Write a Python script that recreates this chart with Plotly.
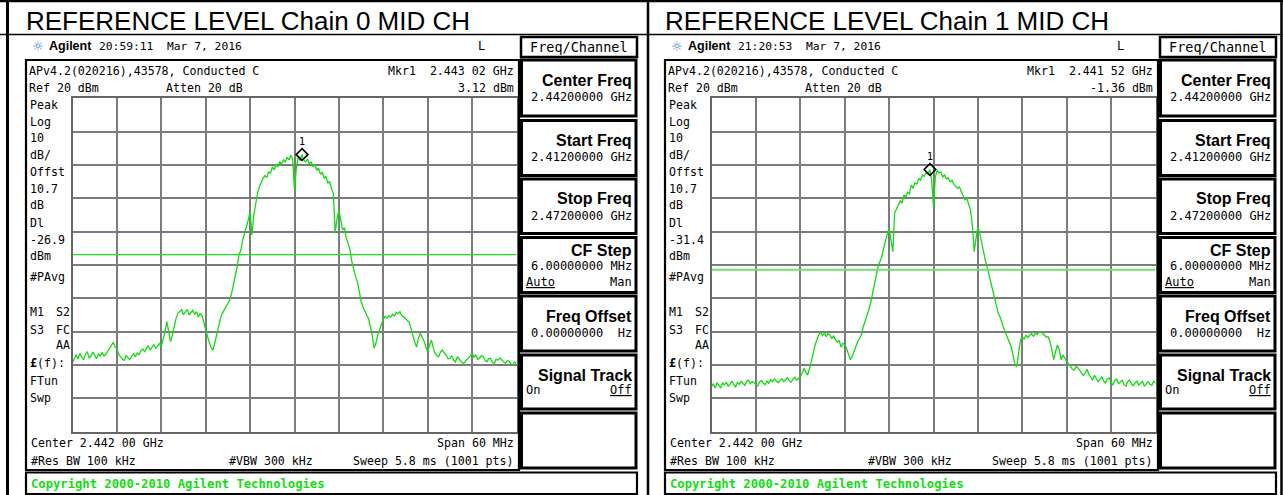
import numpy as np
import plotly.graph_objects as go

W, H = 1283, 495
MONO = "DejaVu Sans Mono"
SANS = "Liberation Sans, Arial"

# ---------------- data ----------------
F_START_GHZ = 2.412
F_STOP_GHZ = 2.472
REF_LEVEL_DBM = 20
DB_PER_DIV = 10

# trace level (dBm), one value per 0.25 MHz from start to stop frequency
chain0_dbm = [
    -59.3, -57.8, -56.9, -58.2, -56.5, -57.6, -58.4, -56.8, -56.0, -57.9,
    -57.3, -56.1, -57.0, -58.1, -56.6, -57.4, -56.2, -57.3, -56.8, -55.9,
    -55.3, -54.2, -53.2, -54.5, -55.2, -56.8, -57.6, -58.3, -58.6, -57.2,
    -57.8, -58.4, -57.3, -56.6, -57.5, -56.4, -56.9, -55.6, -55.2, -56.1,
    -55.0, -54.3, -55.4, -54.6, -53.9, -55.0, -54.2, -53.6, -54.4, -52.5,
    -50.0, -47.0, -49.5, -53.0, -51.0, -48.0, -46.0, -44.5, -44.0, -43.4,
    -44.9, -44.1, -43.3, -45.0, -44.2, -43.6, -44.8, -44.0, -45.6, -44.6,
    -45.2, -47.5, -49.5, -51.5, -53.3, -54.8, -55.5, -53.0, -50.0, -48.0,
    -46.0, -44.5, -43.6, -42.5, -41.5, -40.5, -38.5, -36.0, -33.0, -30.5,
    -27.0, -25.5, -22.5, -20.5, -19.0, -16.5, -14.0, -21.0, -15.0, -11.0,
    -8.5, -6.5, -5.0, -4.0, -3.2, -3.8, -2.0, -2.6, -0.6, -1.5,
    0.2, -0.6, 1.0, 0.2, 1.6, 0.8, 2.3, 1.5, 2.9, 1.8,
    -7.5, -1.0, 2.4, 1.3, 3.12, 1.5, 0.9, 1.8, 0.3, 1.0,
    -0.6, 0.2, -1.6, -0.9, -2.8, -2.2, -3.9, -3.4, -5.5, -4.9,
    -7.2, -8.5, -20.4, -16.0, -13.5, -16.5, -19.5, -18.8, -22.0, -23.5,
    -25.5, -29.0, -31.5, -33.5, -35.0, -38.5, -40.8, -42.5, -44.0, -45.0,
    -46.0, -48.5, -51.0, -54.9, -53.5, -51.0, -49.5, -47.5, -46.2, -45.4,
    -46.0, -45.2, -45.6, -44.8, -45.3, -44.2, -44.6, -44.0, -45.2, -45.5,
    -46.0, -46.4, -47.2, -49.0, -51.5, -53.2, -54.6, -52.0, -50.5, -51.6,
    -52.8, -54.5, -56.0, -54.0, -52.5, -54.8, -56.5, -57.2, -57.5, -56.0,
    -55.5, -56.4, -57.0, -58.1, -58.0, -57.2, -58.5, -59.1, -57.5, -58.2,
    -58.8, -59.5, -59.3, -58.4, -58.0, -57.1, -56.5, -57.6, -57.0, -58.3,
    -58.0, -57.2, -57.5, -58.6, -59.0, -58.1, -58.0, -59.2, -59.5, -58.3,
    -58.5, -57.9, -58.4, -59.0, -59.5, -58.7, -58.8, -59.6, -60.0, -59.1,
    -59.5,
]
chain1_dbm = [
    -66.5, -65.6, -66.9, -65.3, -66.2, -66.8, -65.4, -66.0, -65.1, -66.4,
    -65.7, -64.8, -65.9, -66.6, -65.2, -65.8, -64.9, -65.5, -66.1, -65.0,
    -64.5, -65.6, -64.9, -65.3, -65.8, -66.3, -65.1, -64.7, -65.4, -65.9,
    -64.8, -65.5, -64.4, -65.0, -64.2, -64.9, -65.3, -64.6, -64.1, -65.0,
    -64.4, -63.8, -64.7, -65.2, -64.3, -63.7, -64.5, -64.0, -63.6, -62.5,
    -61.0, -62.2, -63.0, -61.0, -59.0, -56.5, -54.0, -52.0, -50.8, -50.3,
    -51.2, -50.4, -51.5, -50.6, -51.0, -52.0, -51.3, -52.5, -53.2, -52.6,
    -54.6, -53.5, -53.8, -55.0, -56.8, -58.4, -57.5, -56.2, -54.5, -53.0,
    -52.0, -51.0, -48.6, -47.0, -45.6, -43.5, -41.4, -38.5, -35.5, -33.0,
    -30.6, -29.0, -27.6, -25.0, -22.5, -20.8, -19.0, -23.0, -26.0, -14.4,
    -13.2, -12.0, -10.8, -11.4, -9.0, -9.8, -8.2, -8.6, -6.0, -7.0,
    -5.2, -5.8, -4.0, -4.6, -3.0, -3.4, -2.2, -2.8, -1.36, -4.5,
    -12.6, -3.5, -1.6, -2.4, -2.1, -3.6, -3.0, -4.2, -3.8, -5.1,
    -4.6, -5.8, -6.5, -7.0, -6.6, -8.0, -9.2, -10.5, -10.0, -12.0,
    -13.5, -18.0, -26.0, -22.0, -18.6, -20.5, -23.5, -26.4, -28.5, -30.6,
    -33.0, -35.5, -37.5, -40.0, -42.5, -44.5, -45.6, -47.5, -49.0, -50.4,
    -52.0, -53.5, -54.6, -57.0, -60.0, -60.5, -56.0, -52.5, -51.6, -52.2,
    -51.0, -51.8, -51.0, -50.6, -51.4, -50.5, -50.8, -50.2, -50.0, -50.6,
    -51.2, -51.6, -51.6, -53.0, -55.5, -58.4, -56.0, -54.0, -55.5, -58.4,
    -57.0, -58.2, -59.0, -59.6, -60.5, -61.2, -61.5, -60.5, -60.8, -61.6,
    -62.5, -63.2, -62.4, -61.3, -62.8, -63.8, -64.5, -63.1, -64.2, -65.0,
    -64.3, -63.6, -64.8, -65.4, -64.1, -63.9, -65.2, -66.0, -64.7, -64.2,
    -65.6, -65.1, -64.6, -65.9, -66.3, -65.0, -64.5, -65.7, -66.2, -65.3,
    -64.8, -66.0, -65.4, -64.9, -66.4, -65.6, -65.0, -65.8, -66.1, -64.9,
    -65.5,
]

panel_titles = ["REFERENCE LEVEL Chain 0 MID CH", "REFERENCE LEVEL Chain 1 MID CH"]
timestamps = ["20:59:11  Mar 7, 2016", "21:20:53  Mar 7, 2016"]
marker_freq_ghz = [2.44302, 2.44152]
marker_level_dbm = [3.12, -1.36]
marker_freq_label = ["2.443 02 GHz", "2.441 52 GHz"]
marker_level_label = ["3.12 dBm", "-1.36 dBm"]
display_line_dbm = [-26.9, -31.4]
display_line_label = ["-26.9", "-31.4"]
traces_dbm = [chain0_dbm, chain1_dbm]

# ---------------- helpers ----------------
shapes, annotations = [], []


def X(px):
    return px / W


def Y(py):
    return 1 - py / H


def box(x0, y0, x1, y1, width=2, color="black"):
    shapes.append(dict(type="rect", xref="paper", yref="paper",
                       x0=X(x0), y0=Y(y0), x1=X(x1), y1=Y(y1),
                       line=dict(color=color, width=width), layer="above"))


def seg(x0, y0, x1, y1, width=2, color="black"):
    shapes.append(dict(type="line", xref="paper", yref="paper",
                       x0=X(x0), y0=Y(y0), x1=X(x1), y1=Y(y1),
                       line=dict(color=color, width=width), layer="above"))


def txt(x, y, s, anchor="left", size=11.6, family=MONO, color="black", bold=False):
    annotations.append(dict(xref="paper", yref="paper", x=X(x), y=Y(y),
                            text=("<b>%s</b>" % s) if bold else s,
                            showarrow=False, xanchor=anchor, yanchor="middle",
                            borderpad=0,
                            font=dict(family=family, size=size, color=color)))


# ---------------- table frame ----------------
seg(0, 1, W, 1, 2.5)
seg(7.5, 0, 7.5, H, 3)
seg(648, 0, 648, H, 2.5)
seg(1281.5, 0, 1281.5, H, 2.5)
seg(0, 34.5, W, 34.5, 1.5)

fig = go.Figure()

GRID_PX = [(72.5, 516.5), (711.5, 1155.5)]
GRID_TOP, GRID_BOT = 98.3, 431.7
OFFS = [0, 639]

softkeys = [
    (60, 116, "Center Freq", "2.44200000 GHz"),
    (120.5, 175.5, "Start Freq", "2.41200000 GHz"),
    (179, 233.5, "Stop Freq", "2.47200000 GHz"),
    (237.5, 292.5, "CF Step", "6.00000000 MHz"),
    (296, 351, "Freq Offset", "0.00000000  Hz"),
    (355, 409, "Signal Track", None),
    (413, 468, None, None),
]

sidebar = [("Peak", 105), ("Log", 121.7), ("10", 138.3), ("dB/", 155), ("Offst", 172),
           ("10.7", 188.5), ("dB", 205), ("Dl", 222.5), (None, 239.5), ("dBm", 256),
           ("#PAvg", 276.5), ("M1", 311.7), ("S3", 330), ("<b>£</b>(f):", 363),
           ("FTun", 380.7), ("Swp", 398.3)]

for i in range(2):
    ox = OFFS[i]
    sfx = "" if i == 0 else str(i + 1)
    freqs = np.linspace(F_START_GHZ, F_STOP_GHZ, len(traces_dbm[i]))

    fig.add_trace(go.Scatter(x=freqs, y=traces_dbm[i], mode="lines",
                             line=dict(color="#12dc12", width=1.3),
                             xaxis="x" + sfx, yaxis="y" + sfx, hoverinfo="skip"))
    fig.add_trace(go.Scatter(x=[marker_freq_ghz[i]], y=[marker_level_dbm[i]],
                             mode="markers+text", text=["1"], textposition="top center",
                             textfont=dict(family=MONO, size=10, color="black"),
                             marker=dict(symbol="diamond-open", size=9, color="black",
                                         line=dict(width=1.6, color="black")),
                             xaxis="x" + sfx, yaxis="y" + sfx, hoverinfo="skip"))

    axcommon = dict(showgrid=True, gridcolor="#7c7c7c", gridwidth=1.8,
                    showticklabels=False, ticks="", zeroline=False, showline=True,
                    linecolor="#666666", linewidth=2, mirror=True, fixedrange=True)
    fig.update_layout(**{
        "xaxis" + sfx: dict(domain=[X(GRID_PX[i][0]), X(GRID_PX[i][1])],
                            range=[F_START_GHZ, F_STOP_GHZ], tick0=F_START_GHZ,
                            dtick=(F_STOP_GHZ - F_START_GHZ) / 10, anchor="y" + sfx,
                            **axcommon),
        "yaxis" + sfx: dict(domain=[Y(GRID_BOT), Y(GRID_TOP)],
                            range=[REF_LEVEL_DBM - 10 * DB_PER_DIV, REF_LEVEL_DBM],
                            tick0=REF_LEVEL_DBM, dtick=DB_PER_DIV, anchor="x" + sfx,
                            **axcommon),
    })
    # display line
    shapes.append(dict(type="line", xref="x" + sfx, yref="y" + sfx,
                       x0=F_START_GHZ, x1=F_STOP_GHZ,
                       y0=display_line_dbm[i], y1=display_line_dbm[i],
                       line=dict(color="#22e022" if i == 0 else "#70e070",
                                 width=1.2 if i == 0 else 2), layer="above"))

    # title row
    txt(25 + ox, 21, panel_titles[i], size=26, family=SANS)

    # header row
    txt(31 + ox, 46, "☼", size=13, family="DejaVu Sans", color="#3b82e0")
    txt(48 + ox, 46, "Agilent", size=12.5, family=SANS, bold=True)
    txt(98 + ox, 46, timestamps[i], size=11.3)
    txt(477 + ox, 46, "L", size=12)
    box(521 + ox, 37, 637 + ox, 57, 2.5)
    txt(579 + ox, 47, "Freq/Channel", anchor="center", size=13.5)

    # instrument screen
    box(26 + ox, 60, 519 + ox, 470, 2.2)
    txt(28 + ox, 71, "APv4.2(020216),43578, Conducted C")
    txt(515 + ox, 71, "Mkr1  " + marker_freq_label[i], anchor="right")
    txt(28 + ox, 88, "Ref 20 dBm")
    txt(165 + ox, 88, "Atten 20 dB")
    txt(515 + ox, 88, marker_level_label[i], anchor="right")
    for label, yy in sidebar:
        txt(29 + ox, yy, label if label is not None else display_line_label[i])
    txt(71 + ox, 311.7, "S2", anchor="right")
    txt(71 + ox, 330, "FC", anchor="right")
    txt(71 + ox, 345, "AA", anchor="right")
    txt(30 + ox, 443, "Center 2.442 00 GHz")
    txt(515 + ox, 443, "Span 60 MHz", anchor="right")
    txt(30 + ox, 461, "#Res BW 100 kHz")
    txt(228 + ox, 461, "#VBW 300 kHz")
    txt(515 + ox, 461, "Sweep 5.8 ms (1001 pts)", anchor="right")

    # copyright bar
    box(26 + ox, 472.5, 637 + ox, 494, 2.2)
    txt(30 + ox, 483.5, "Copyright 2000-2010 Agilent Technologies", size=12.2,
        color="#10e010", bold=True)

    # soft keys
    for top, bot, title, value in softkeys:
        box(521.5 + ox, top, 636 + ox, bot, 3)
        if title == "CF Step":
            txt(633 + ox, top + 12.5, title, anchor="right", size=16, family=SANS, bold=True)
            txt(633 + ox, top + 28, value, anchor="right", size=12)
            txt(525 + ox, top + 44, "<u>Auto</u>", size=12)
            txt(633 + ox, top + 44, "Man", anchor="right", size=12)
            continue
        if title:
            txt(633 + ox, top + 20, title, anchor="right", size=16, family=SANS, bold=True)
        if value:
            txt(633 + ox, top + 36.5, value, anchor="right", size=12)
        if title == "Signal Track":
            txt(525 + ox, top + 35, "On", size=12)
            txt(633 + ox, top + 35, "<u>Off</u>", anchor="right", size=12)

fig.update_layout(width=W, height=H, margin=dict(l=0, r=0, t=0, b=0),
                  paper_bgcolor="white", plot_bgcolor="white", showlegend=False,
                  shapes=shapes, annotations=annotations)

fig.write_html("out.html", config={"displayModeBar": False},
               post_script="document.body.style.margin='0px';"
                           "document.body.style.overflow='hidden';")
